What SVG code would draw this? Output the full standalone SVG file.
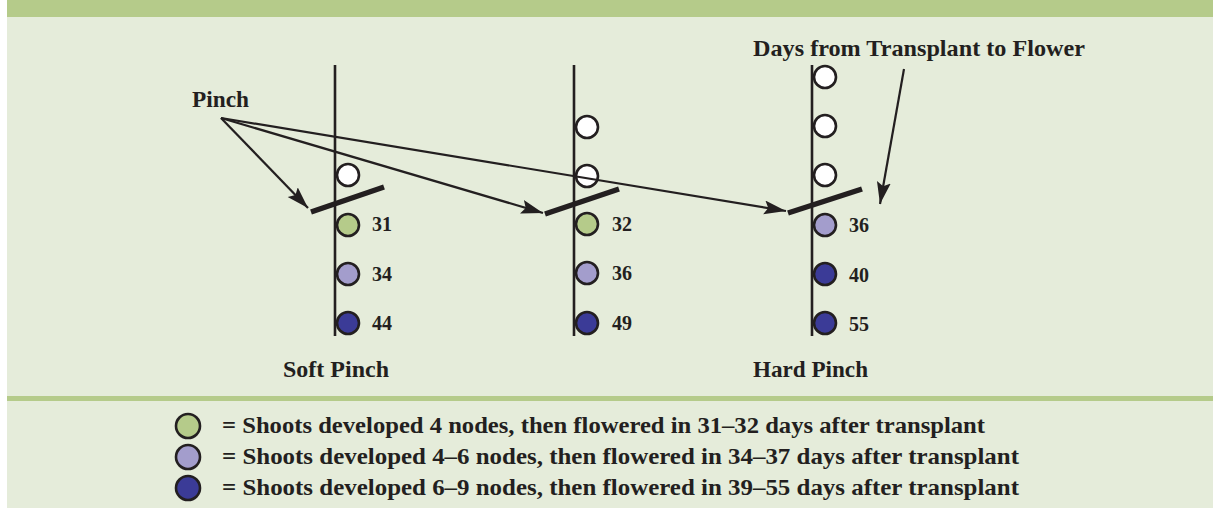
<svg xmlns="http://www.w3.org/2000/svg" width="1213" height="508" viewBox="0 0 1213 508">
  <defs>
    <style>
      .panel { fill: #e5ecda; }
      .band { fill: #b5cb8a; }
      .stem { stroke: #231f20; stroke-width: 2.6; fill: none; }
      .pinch { stroke: #231f20; stroke-width: 5.5; fill: none; }
      .arrow { stroke: #231f20; stroke-width: 2.2; fill: none; marker-end: url(#head); }
      .node { stroke: #231f20; stroke-width: 2.6; }
      .bud { fill: #ffffff; }
      .early { fill: #b5cb8a; }
      .mid { fill: #a39dcc; }
      .late { fill: #3b3b97; }
      text { font-family: "Liberation Serif", "Times New Roman", serif; font-weight: bold; fill: #231f20; }
      .lbl { font-size: 23px; }
      .num { font-size: 20px; }
      .leg { font-size: 24px; }
    </style>
    <marker id="head" markerUnits="userSpaceOnUse" markerWidth="24" markerHeight="16" refX="22" refY="7" orient="auto">
      <path d="M0,0 L22,7 L0,14 L4,7 z" fill="#231f20"/>
    </marker>
  </defs>

  <!-- background panel with header band and legend divider -->
  <rect class="panel" x="7" y="0" width="1206" height="508"/>
  <rect class="band" x="7" y="0" width="1206" height="17"/>
  <rect class="band" x="7" y="396" width="1206" height="5"/>

  <!-- soft pinch shoot -->
  <g id="soft-pinch">
    <line class="stem" x1="335" y1="65" x2="335" y2="336"/>
    <circle class="node bud" cx="348" cy="175" r="11"/>
    <line class="pinch" x1="311" y1="212" x2="384" y2="187"/>
    <circle class="node early" cx="348" cy="225" r="11"/>
    <circle class="node mid" cx="348" cy="274" r="11"/>
    <circle class="node late" cx="348" cy="323" r="11"/>
    <text class="num" x="372" y="231">31</text>
    <text class="num" x="372" y="281">34</text>
    <text class="num" x="372" y="330">44</text>
    <text class="lbl" x="283" y="377" textLength="106" lengthAdjust="spacingAndGlyphs">Soft Pinch</text>
  </g>

  <!-- intermediate pinch shoot -->
  <g id="mid-pinch">
    <line class="stem" x1="574" y1="65" x2="574" y2="336"/>
    <circle class="node bud" cx="587" cy="127" r="11"/>
    <circle class="node bud" cx="587" cy="176" r="11"/>
    <line class="pinch" x1="545" y1="214" x2="619" y2="189"/>
    <circle class="node early" cx="587" cy="224" r="11"/>
    <circle class="node mid" cx="587" cy="273" r="11"/>
    <circle class="node late" cx="587" cy="323" r="11"/>
    <text class="num" x="612" y="231">32</text>
    <text class="num" x="612" y="280">36</text>
    <text class="num" x="612" y="330">49</text>
  </g>

  <!-- hard pinch shoot -->
  <g id="hard-pinch">
    <line class="stem" x1="812" y1="65" x2="812" y2="336"/>
    <circle class="node bud" cx="825" cy="77" r="11"/>
    <circle class="node bud" cx="825" cy="126" r="11"/>
    <circle class="node bud" cx="825" cy="175" r="11"/>
    <line class="pinch" x1="788" y1="213" x2="862" y2="189"/>
    <circle class="node mid" cx="825" cy="225" r="11"/>
    <circle class="node late" cx="825" cy="274" r="11"/>
    <circle class="node late" cx="825" cy="323" r="11"/>
    <text class="num" x="849" y="232">36</text>
    <text class="num" x="849" y="282">40</text>
    <text class="num" x="849" y="331">55</text>
    <text class="lbl" x="753" y="377" textLength="115" lengthAdjust="spacingAndGlyphs">Hard Pinch</text>
  </g>

  <!-- callout labels -->
  <g id="pinch-label">
    <text class="lbl" x="192" y="107" textLength="57" lengthAdjust="spacingAndGlyphs">Pinch</text>
  </g>
  <g id="days-label">
    <text class="lbl" x="753" y="56" textLength="332" lengthAdjust="spacingAndGlyphs">Days from Transplant to Flower</text>
  </g>

  <!-- callout arrows -->
  <g id="connectors">
    <line class="arrow" x1="221" y1="118" x2="308" y2="208"/>
    <line class="arrow" x1="221" y1="118" x2="543" y2="213"/>
    <line class="arrow" x1="221" y1="118" x2="786" y2="211"/>
    <line class="arrow" x1="904" y1="69" x2="880" y2="204"/>
  </g>

  <!-- key -->
  <g id="legend">
    <circle class="node early" cx="188" cy="426" r="12"/>
    <circle class="node mid" cx="188" cy="457" r="12"/>
    <circle class="node late" cx="188" cy="488" r="12"/>
    <text class="leg" x="222" y="433" textLength="763" lengthAdjust="spacingAndGlyphs">= Shoots developed 4 nodes, then flowered in 31–32 days after transplant</text>
    <text class="leg" x="222" y="464" textLength="797" lengthAdjust="spacingAndGlyphs">= Shoots developed 4–6 nodes, then flowered in 34–37 days after transplant</text>
    <text class="leg" x="222" y="495" textLength="797" lengthAdjust="spacingAndGlyphs">= Shoots developed 6–9 nodes, then flowered in 39–55 days after transplant</text>
  </g>
</svg>
